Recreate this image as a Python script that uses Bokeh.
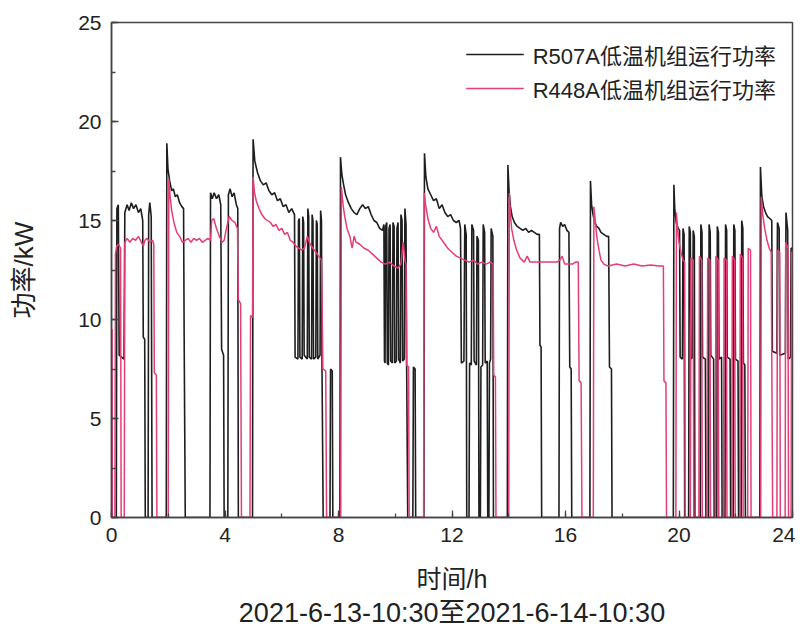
from bokeh.plotting import figure
from bokeh.models import Legend, LegendItem, Title, SingleIntervalTicker
from bokeh.embed import file_html
from bokeh.resources import INLINE

# ---------------- data ----------------
# R507A low-temperature unit power (kW) vs time (h)
t_r507 = [0.00, 0.17, 0.19, 0.24, 0.27, 0.44, 0.47, 0.55, 0.62, 0.70, 0.78, 0.86, 0.95, 1.03, 1.10, 1.12, 1.17, 1.19,
          1.29, 1.31, 1.35, 1.40, 1.43, 1.93,
          1.95, 1.99, 2.05, 2.12, 2.18, 2.25, 2.32, 2.40, 2.48, 2.54, 2.56, 2.60, 3.47,
          3.49, 3.55, 3.62, 3.70, 3.78, 3.85, 3.88, 3.95, 3.97, 4.10, 4.12, 4.18, 4.25, 4.32, 4.40, 4.45, 4.47, 4.97,
          4.99, 5.05, 5.15, 5.25, 5.35, 5.45, 5.55, 5.65, 5.75, 5.85, 5.95, 6.05, 6.15, 6.25, 6.35, 6.45,
          6.47, 6.57, 6.59, 6.62, 6.64, 6.72, 6.74, 6.77, 6.79, 6.90, 6.92, 6.95, 6.97, 7.05, 7.07, 7.10, 7.12,
          7.20, 7.22, 7.25, 7.27, 7.35, 7.37, 7.40, 7.42, 7.46, 7.70, 7.72, 7.78, 7.80, 8.05,
          8.07, 8.12, 8.18, 8.25, 8.35, 8.45, 8.55, 8.65, 8.75, 8.85, 8.95, 9.05, 9.15, 9.25, 9.35, 9.45, 9.55,
          9.60, 9.62, 9.64, 9.66, 9.70, 9.72, 9.76, 9.78, 9.82, 9.84, 9.90, 9.92, 9.96, 9.98, 10.04, 10.06, 10.10,
          10.12, 10.18, 10.20, 10.24, 10.26, 10.32, 10.34, 10.38, 10.40, 10.44, 10.62, 10.64, 10.70, 10.72, 11.01,
          11.03, 11.08, 11.15, 11.25, 11.35, 11.45, 11.55, 11.65, 11.75, 11.85, 11.95, 12.05, 12.15, 12.25, 12.30,
          12.33, 12.42, 12.45, 12.50, 12.52, 12.60, 12.62, 12.68, 12.70, 12.76, 12.78, 12.86, 12.88, 12.93, 12.95,
          13.00, 13.02, 13.08, 13.10, 13.15, 13.17, 13.24, 13.26, 13.30, 13.32, 13.36, 13.38, 13.44, 13.46, 13.95,
          13.97, 14.01, 14.06, 14.12, 14.20, 14.30, 14.40, 14.50, 14.60, 14.70, 14.80, 14.90, 15.00, 15.08, 15.10,
          15.14, 15.16, 15.77, 15.79, 15.83, 15.90, 15.97, 16.05, 16.12, 16.15, 16.20, 16.22, 16.86,
          16.88, 16.92, 16.97, 17.03, 17.10, 17.18, 17.25, 17.35, 17.45, 17.52, 17.55, 17.62, 17.64, 19.80,
          19.82, 19.85, 19.90, 19.97, 20.02, 20.04, 20.12, 20.14, 20.18, 20.20, 20.34, 20.36, 20.40, 20.42, 20.48,
          20.50, 20.54, 20.56, 20.75, 20.77, 20.81, 20.83, 20.93, 20.95, 21.04, 21.06, 21.10, 21.12, 21.22, 21.24,
          21.33, 21.35, 21.39, 21.41, 21.50, 21.52, 21.62, 21.64, 21.68, 21.70, 21.80, 21.82, 21.91, 21.93, 21.97,
          21.99, 22.08, 22.10, 22.19, 22.21, 22.25, 22.27, 22.32, 22.34, 22.85,
          22.87, 22.92, 22.98, 23.05, 23.12, 23.20, 23.27, 23.29, 23.45, 23.47, 23.53, 23.55, 23.75, 23.77, 23.83,
          23.85, 23.93, 23.95, 24.00]
p_r507 = [0.0, 0.0, 15.6, 15.8, 8.2, 8.0, 15.4, 15.8, 15.5, 15.9, 15.6, 15.8, 15.4, 15.6, 15.0, 9.1, 9.0, 0.0,
          0.0, 15.3, 15.9, 15.2, 0.0, 0.0,
          18.9, 17.6, 17.0, 16.5, 16.6, 16.2, 16.3, 15.9, 15.7, 15.6, 9.3, 0.0, 0.0,
          16.4, 16.1, 16.4, 16.1, 16.3, 15.8, 8.5, 8.2, 0.0, 0.0, 16.3, 16.6, 16.2, 16.4, 15.8, 15.6, 0.0, 0.0,
          19.1, 18.0, 17.4, 17.0, 16.8, 16.9, 16.5, 16.3, 16.4, 16.0, 16.1, 15.7, 15.8, 15.4, 15.6, 15.3,
          8.1, 8.0, 15.0, 15.1, 8.1, 8.0, 15.2, 14.9, 8.2, 8.0, 15.6, 15.2, 8.1, 8.0, 15.3, 15.0, 8.0,
          8.1, 15.0, 14.8, 8.0, 8.2, 15.5, 15.0, 7.3, 0.0, 0.0, 7.5, 7.4, 0.0, 0.0,
          18.2, 17.3, 16.8, 16.3, 15.9, 15.6, 15.4, 15.3, 15.6, 15.8, 15.6, 15.7, 15.3, 15.0, 14.9, 14.6, 14.5,
          14.8, 7.9, 7.8, 14.7, 14.9, 7.8, 7.7, 14.6, 14.8, 7.9, 7.8, 14.9, 14.7, 7.8, 7.9, 14.6, 14.9,
          8.0, 7.8, 15.3, 15.0, 7.9, 8.0, 15.6, 14.8, 8.0, 0.0, 0.0, 7.6, 7.5, 0.0, 0.0,
          18.4, 17.2, 16.6, 16.3, 16.0, 16.1, 15.6, 15.8, 15.4, 15.2, 15.3, 15.0, 14.9, 15.0, 14.6,
          7.8, 7.9, 14.8, 14.3, 0.0, 0.0, 7.8, 7.7, 14.8, 14.5, 7.9, 7.7, 14.2, 14.0, 0.0,
          0.0, 7.6, 7.7, 14.8, 14.4, 7.8, 7.9, 0.0, 0.0, 7.8, 8.0, 14.6, 14.2, 0.0, 0.0,
          17.8, 16.5, 15.7, 15.2, 14.9, 14.7, 14.6, 14.5, 14.6, 14.4, 14.5, 14.4, 14.3, 14.3, 8.7,
          8.6, 0.0, 0.0, 14.6, 14.9, 14.7, 14.8, 14.5, 14.4, 7.6, 7.5, 0.0, 0.0,
          17.0, 15.8, 15.3, 14.9, 14.7, 14.6, 14.4, 14.3, 14.2, 14.2, 7.6, 7.5, 0.0, 0.0,
          16.8, 15.6, 14.9, 14.6, 14.5, 8.1, 8.0, 14.6, 14.3, 0.0, 0.0, 14.7, 14.4, 8.0, 8.1,
          14.5, 14.2, 0.0, 0.0, 14.8, 14.4, 8.1, 8.0, 0.0, 0.0, 14.8, 14.4, 8.2, 8.0, 0.0,
          0.0, 14.7, 14.4, 8.0, 8.1, 0.0, 0.0, 14.8, 14.5, 8.1, 8.0, 0.0, 0.0, 14.8, 14.5,
          8.0, 7.9, 0.0, 0.0, 15.0, 14.6, 7.8, 7.7, 0.0, 0.0,
          17.7, 16.2, 15.7, 15.4, 15.2, 15.1, 15.0, 8.4, 8.3, 14.9, 14.6, 8.2, 8.3, 15.4, 14.5,
          8.0, 8.1, 13.6, 13.6]

# R448A low-temperature unit power (kW) vs time (h)
t_r448 = [0.00, 0.02, 0.03, 0.12, 0.14, 0.18, 0.25, 0.32, 0.34, 0.45, 0.47, 0.55, 0.65, 0.75, 0.85, 0.95, 1.05,
          1.12, 1.18, 1.25, 1.35, 1.45, 1.49, 1.51, 1.58, 1.60, 2.00,
          2.02, 2.06, 2.12, 2.20, 2.30, 2.40, 2.50, 2.60, 2.70, 2.80, 2.90, 3.00, 3.10, 3.20, 3.30, 3.40, 3.49,
          3.53, 3.60, 3.70, 3.80, 3.90, 3.97, 4.05, 4.15, 4.25, 4.35, 4.44, 4.47, 4.55, 4.58, 4.88, 4.90, 4.97,
          4.99, 5.04, 5.10, 5.20, 5.30, 5.40, 5.50, 5.60, 5.70, 5.80, 5.90, 6.00, 6.10, 6.20, 6.30, 6.40, 6.50,
          6.60, 6.70, 6.80, 6.90, 7.00, 7.10, 7.20, 7.30, 7.40, 7.45, 7.55, 7.58, 8.08,
          8.10, 8.16, 8.22, 8.30, 8.40, 8.48, 8.55, 8.62, 8.75, 8.90, 9.05, 9.20, 9.35, 9.50, 9.65, 9.80, 9.95,
          10.10, 10.20, 10.28, 10.34, 10.38, 10.40, 10.47, 10.49, 11.00,
          11.02, 11.07, 11.15, 11.25, 11.35, 11.45, 11.55, 11.70, 11.85, 12.00, 12.15, 12.30, 12.45, 12.60, 12.75,
          12.90, 13.05, 13.20, 13.35, 13.45, 13.47, 13.53, 13.55, 14.00,
          14.02, 14.06, 14.10, 14.18, 14.28, 14.40, 14.55, 14.65, 14.75, 14.90, 15.05, 15.20, 15.35, 15.50, 15.70,
          15.80, 15.88, 15.97, 16.10, 16.25, 16.35, 16.45, 16.48, 16.55, 16.58, 16.98,
          17.00, 17.05, 17.10, 17.18, 17.25, 17.35, 17.50, 17.80, 18.10, 18.40, 18.70, 19.00, 19.30, 19.45, 19.47,
          19.54, 19.56, 19.89,
          19.91, 19.95, 20.00, 20.07, 20.14, 20.20, 20.22, 20.40, 20.42, 20.50, 20.52, 20.70, 20.72, 20.80, 20.82,
          20.99, 21.01, 21.09, 21.11, 21.28, 21.30, 21.38, 21.40, 21.57, 21.59, 21.67, 21.69, 21.86, 21.88, 21.96,
          21.98, 22.14, 22.16, 22.24, 22.26, 22.42, 22.44, 22.52, 22.54, 22.88,
          22.90, 22.95, 23.02, 23.10, 23.18, 23.25, 23.27, 23.30, 23.45, 23.47, 23.55, 23.57, 23.74, 23.76, 23.84,
          23.86, 23.95, 23.97, 24.00]
p_r448 = [9.5, 9.5, 0.0, 0.0, 13.3, 13.7, 13.8, 13.6, 0.0, 0.0, 13.9, 14.1, 13.9, 14.1, 14.0, 14.2, 13.9,
          13.7, 14.0, 14.1, 13.9, 14.0, 13.8, 7.3, 7.2, 0.0, 0.0,
          17.1, 16.3, 15.5, 14.9, 14.4, 14.2, 13.9, 14.0, 14.1, 13.9, 14.1, 14.0, 14.1, 13.9, 14.0, 14.1, 14.0,
          15.0, 15.1, 14.6, 14.2, 13.9, 14.0, 14.6, 15.2, 15.0, 14.9, 14.6, 11.0, 10.8, 0.0, 0.0, 10.2, 10.1,
          17.2, 16.4, 16.0, 15.6, 15.3, 15.1, 15.0, 14.9, 14.7, 14.8, 14.5, 14.6, 14.3, 14.4, 14.0, 13.9, 13.7,
          13.6, 13.5, 13.6, 14.2, 13.8, 13.6, 13.4, 13.2, 13.0, 7.5, 7.4, 0.0, 0.0,
          16.7, 15.8, 15.2, 14.6, 14.2, 13.6, 14.2, 13.9, 13.8, 13.6, 13.5, 13.3, 13.1, 12.9, 12.8, 12.9, 12.7,
          12.6, 12.8, 13.9, 13.0, 12.8, 7.7, 7.6, 0.0, 0.0,
          16.4, 15.8, 15.1, 14.6, 14.4, 14.7, 14.2, 13.9, 13.6, 13.4, 13.2, 13.1, 13.0, 12.9, 13.0,
          12.8, 12.9, 12.8, 12.9, 12.8, 7.2, 7.1, 0.0, 0.0,
          16.4, 15.3, 14.6, 14.0, 13.5, 13.1, 12.9, 13.2, 12.9, 12.9, 12.9, 12.9, 12.9, 12.9, 12.9,
          13.0, 13.2, 12.8, 12.8, 12.8, 12.9, 12.9, 6.9, 6.8, 0.0, 0.0,
          15.7, 15.0, 14.2, 13.5, 13.0, 12.8, 12.7, 12.8, 12.7, 12.8, 12.7, 12.75, 12.7, 12.7, 6.9,
          6.8, 0.0, 0.0,
          15.4, 14.6, 13.9, 13.4, 13.0, 12.9, 0.0, 0.0, 13.1, 13.0, 0.0, 0.0, 13.2, 13.0, 0.0,
          0.0, 13.1, 13.0, 0.0, 0.0, 13.2, 13.0, 0.0, 0.0, 13.1, 13.0, 0.0, 0.0, 13.2, 13.0,
          0.0, 0.0, 13.3, 13.1, 0.0, 0.0, 13.6, 13.5, 0.0, 0.0,
          16.2, 15.3, 14.6, 14.0, 13.6, 13.4, 8.1, 0.0, 0.0, 13.5, 13.4, 0.0, 0.0, 13.9, 13.6,
          0.0, 0.0, 13.4, 13.4]

series_labels = ["R507A低温机组运行功率", "R448A低温机组运行功率"]
x_label = "时间/h"
y_label = "功率/kW"
period_label = "2021-6-13-10:30至2021-6-14-10:30"

# ---------------- figure ----------------
FONT = "'Liberation Sans', 'Noto Sans CJK SC', sans-serif"
TXT = "#222222"

p = figure(width=795, height=628, x_range=(0, 24), y_range=(0, 25),
           output_backend="svg", toolbar_location=None,
           min_border_left=111, min_border_right=3, min_border_top=22, min_border_bottom=110)

p.xgrid.visible = False
p.ygrid.visible = False
p.outline_line_color = "#444444"
p.outline_line_width = 1.5
p.background_fill_color = "white"
p.border_fill_color = "white"

r1 = p.line(t_r507, p_r507, line_color="#1e1e1e", line_width=1.6)
r2 = p.line(t_r448, p_r448, line_color="#e43d78", line_width=1.5)

p.xaxis.ticker = SingleIntervalTicker(interval=4, num_minor_ticks=2)
p.yaxis.ticker = SingleIntervalTicker(interval=5, num_minor_ticks=2)
for ax in (p.xaxis, p.yaxis):
    ax.axis_line_color = "#444444"
    ax.axis_line_width = 1.5
    ax.major_tick_in = 7
    ax.major_tick_out = 0
    ax.minor_tick_in = 4
    ax.minor_tick_out = 0
    ax.major_tick_line_color = "#444444"
    ax.minor_tick_line_color = "#444444"
    ax.major_tick_line_width = 1.3
    ax.minor_tick_line_width = 1.3
    ax.major_label_text_font = FONT
    ax.major_label_text_font_size = "21px"
    ax.major_label_text_color = TXT
    ax.axis_label_text_font = FONT
    ax.axis_label_text_font_style = "normal"
    ax.axis_label_text_color = TXT

p.xaxis.axis_label = x_label
p.yaxis.axis_label = y_label
p.xaxis.axis_label_text_font_size = "25px"
p.yaxis.axis_label_text_font_size = "26px"
p.xaxis.major_label_standoff = 10
p.xaxis.axis_label_standoff = 20
p.yaxis.major_label_standoff = 10
p.yaxis.axis_label_standoff = 36

sub = Title(text=period_label, align="center", text_font=FONT, text_font_size="27px",
            text_font_style="normal", text_color=TXT, standoff=1)
p.add_layout(sub, "below")

legend = Legend(items=[LegendItem(label=series_labels[0], renderers=[r1]),
                       LegendItem(label=series_labels[1], renderers=[r2])],
                location="top_right", border_line_color=None, background_fill_alpha=0,
                label_text_font=FONT, label_text_font_size="22px", label_text_color=TXT,
                glyph_width=58, glyph_height=22, label_height=22, label_standoff=9,
                spacing=2, margin=16, padding=4)
p.add_layout(legend)

open("out.html", "w").write(file_html(p, INLINE))
